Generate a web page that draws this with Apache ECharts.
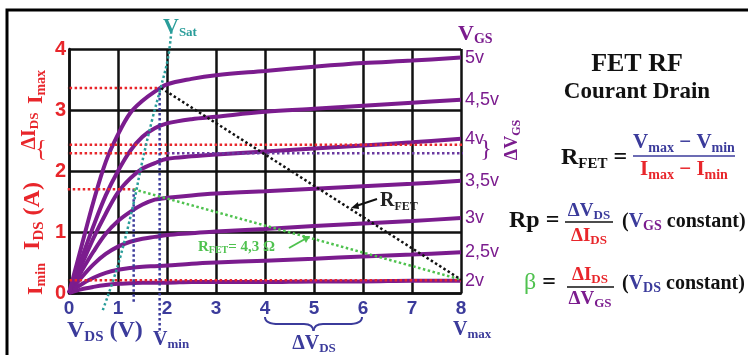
<!DOCTYPE html>
<html><head><meta charset="utf-8">
<script src="https://cdn.jsdelivr.net/npm/echarts@6/dist/echarts.min.js"></script>
<style>html,body{margin:0;padding:0;background:#fff}#c{width:748px;height:355px}</style>
</head><body><div id="c"></div>
<script>
// ---- data ----
const vds = [0,0.25,0.5,0.75,1,1.25,1.5,1.75,2,2.5,3,4,5,6,7,8];
const vgsLabels = ['2v','2,5v','3v','3,5v','4v','4,5v','5v'];
const id2v   = [0,0.06,0.10,0.13,0.15,0.16,0.17,0.17,0.17,0.18,0.18,0.18,0.19,0.19,0.20,0.20];
const id25v  = [0,0.14,0.25,0.33,0.38,0.41,0.43,0.44,0.45,0.48,0.50,0.53,0.56,0.60,0.63,0.67];
const id3v   = [0,0.25,0.47,0.64,0.76,0.84,0.89,0.92,0.95,0.98,1.01,1.05,1.10,1.14,1.18,1.23];
const id35v  = [0,0.35,0.68,0.97,1.18,1.33,1.45,1.53,1.56,1.60,1.63,1.67,1.71,1.75,1.79,1.84];
const id4v   = [0,0.45,0.90,1.30,1.65,1.88,2.04,2.13,2.20,2.24,2.27,2.32,2.37,2.42,2.47,2.53];
const id45v  = [0,0.55,1.10,1.60,2.00,2.33,2.56,2.70,2.78,2.85,2.89,2.97,3.02,3.07,3.12,3.17];
const id5v   = [0,0.75,1.50,2.15,2.60,2.95,3.15,3.30,3.42,3.51,3.57,3.64,3.71,3.77,3.81,3.86];
const curves = [id2v,id25v,id3v,id35v,id4v,id45v,id5v];
const xTicks = [0,1,2,3,4,5,6,7,8];
const yTicks = [0,1,2,3,4];
// annotation lines (VDS, IDS)
const vsatCurve = [[0.69,-0.28],[1.0,0.46],[1.31,1.44],[1.48,2.1],[1.7,2.85],[1.87,3.36],[2.02,3.85],[2.09,4.3]];
const imaxLine  = [[-0.6,3.36],[1.87,3.36]];
const dIdsUpper = [[-0.6,2.43],[8.05,2.43]];
const dIdsLowerRed = [[-0.6,2.29],[2.0,2.29]];
const dIdsLowerPur = [[2.0,2.29],[8.15,2.29]];
const i2Line    = [[-0.23,1.70],[1.32,1.70]];
const iminLine  = [[-0.6,0.21],[8,0.21]];
const vminLine  = [[1.85,3.36],[1.85,-0.66]];
const v2Line    = [[1.32,1.70],[1.32,-0.16]];
const rfetGreen = [[1.32,1.70],[8,0.22]];
const rfetBlack = [[1.88,3.36],[8,0.22]];

// ---- styling ----
const PURPLE='#7b1c8e', RED='#e8262b', NAVY='#3b3b9b', TEAL='#2a9d9a', GREEN='#4fc24f';
const SERIF='Liberation Serif', SANS='Liberation Sans';

function st(size,color,extra){return Object.assign({fontSize:size,fill:color,color:color,fontFamily:SERIF,fontWeight:'bold',lineHeight:Math.round(size*1.15)},extra||{});}
function sb(size,color){return {fontSize:size,fill:color,color:color,fontFamily:SERIF,fontWeight:'bold',lineHeight:size,verticalAlign:'bottom'};}

function T(x,y,text,rich,opt){
  opt=opt||{};
  return {type:'text',x:x,y:y,rotation:opt.rot||0,z:100,
    style:{text:text,rich:rich,align:opt.align||'left',verticalAlign:'middle',font:'bold 12px '+SERIF}};
}
function P(x,y,text,size,color){
  return {type:'text',x:x,y:y,z:100,style:{text:text,align:'center',verticalAlign:'middle',fill:color,font:size+'px '+SERIF}};
}
function Q(x1,y1,cx,cy,x2,y2,color){
  return {type:'bezierCurve',z:100,shape:{x1:x1,y1:y1,cpx1:cx,cpy1:cy,x2:x2,y2:y2},style:{fill:'none',stroke:color,lineWidth:2}};
}
function L(x1,y1,x2,y2,color,w){
  return {type:'line',z:100,shape:{x1:x1,y1:y1,x2:x2,y2:y2},style:{stroke:color,lineWidth:w||2}};
}

const graphics = [
  {type:'rect',shape:{x:7,y:10,width:760,height:360},style:{fill:'none',stroke:'#000',lineWidth:3},z:0},
  // V_sat
  T(163,27,'{a|V}{b|Sat}',{a:st(22,TEAL),b:sb(13,TEAL)}),
  // V_GS header
  T(458,34,'{a|V}{b|GS}',{a:st(22,PURPLE),b:sb(14,PURPLE)}),
  // left rotated labels
  T(36,87,'{a|I}{b|max}',{a:st(22,RED),b:sb(14,RED)},{rot:Math.PI/2,align:'center'}),
  T(30,131,'{a|ΔI}{b|DS}',{a:st(20,RED),b:sb(13,RED)},{rot:Math.PI/2,align:'center'}),
  T(33,216,'{a|I}{b|DS}{a| (A)}',{a:st(24,RED),b:sb(15,RED)},{rot:Math.PI/2,align:'center'}),
  T(36,279,'{a|I}{b|min}',{a:st(22,RED),b:sb(14,RED)},{rot:Math.PI/2,align:'center'}),
  P(41,150,'{',24,RED),
  // right brace + rotated ΔV_GS
  P(486,150,'}',24,PURPLE),
  T(512,140,'{a|ΔV}{b|GS}',{a:st(18,PURPLE),b:sb(12,PURPLE)},{rot:Math.PI/2,align:'center'}),
  // bottom labels
  T(67,331,'{a|V}{b|DS}{a| (V)}',{a:st(24,NAVY),b:sb(15,NAVY)}),
  T(153,340,'{a|V}{b|min}',{a:st(20,NAVY),b:sb(13,NAVY)}),
  T(314,344,'{a|ΔV}{b|DS}',{a:st(20,NAVY),b:sb(13,NAVY)},{align:'center'}),
  T(453,330,'{a|V}{b|max}',{a:st(20,NAVY),b:sb(13,NAVY)}),
  Q(265,317,265,324,279,324,NAVY), L(279,324,304,324,NAVY), Q(304,324,313,324,313.5,331,NAVY),
  Q(362,317,362,324,348,324,NAVY), L(348,324,323,324,NAVY), Q(323,324,314,324,313.5,331,NAVY),
  // in-plot labels
  T(380,201,'{a|R}{b|FET}',{a:st(20,'#222'),b:sb(12,'#222')}),
  L(377,199,356,206,'#111'),
  {type:'polygon',z:100,shape:{points:[[351,208],[358,202],[359,209]]},style:{fill:'#111'}},
  T(198,247,'{a|R}{b|FET}{a|= 4,3 Ω}',{a:st(15,GREEN),b:sb(10,GREEN)}),
  L(289,248,305,239,GREEN),
  {type:'polygon',z:100,shape:{points:[[310,236],[302,236],[306,243]]},style:{fill:GREEN}},
  // right panel
  T(637,64,'{a|FET RF}',{a:st(26,'#111')},{align:'center'}),
  T(637,92,'{a|Courant Drain}',{a:st(23,'#111')},{align:'center'}),
  T(561,158,'{a|R}{b|FET}{a| =}',{a:st(24,'#111'),b:sb(15,'#111')}),
  T(684,143,'{a|V}{b|max}{a| − V}{b|min}',{a:st(21,NAVY),b:sb(14,NAVY)},{align:'center'}),
  L(633,156,735,156,NAVY,1.5),
  T(684,170,'{a|I}{b|max}{a| − I}{b|min}',{a:st(21,RED),b:sb(14,RED)},{align:'center'}),
  T(509,221,'{a|Rp =}',{a:st(24,'#111')}),
  T(589,211,'{a|ΔV}{b|DS}',{a:st(19,NAVY),b:sb(13,NAVY)},{align:'center'}),
  L(565,222,613,222,'#111',1.5),
  T(589,236,'{a|ΔI}{b|DS}',{a:st(19,RED),b:sb(13,RED)},{align:'center'}),
  T(622,222,'{a|(}{v|V}{s|GS}{a| constant)}',{a:st(20,'#111'),v:st(20,NAVY),s:sb(14,PURPLE)}),
  T(524,283,'{g|β}{a| =}',{g:st(24,GREEN,{fontWeight:'normal'}),a:st(24,'#111')}),
  T(590,275,'{a|ΔI}{b|DS}',{a:st(19,RED),b:sb(13,RED)},{align:'center'}),
  L(567,287,614,287,'#111',1.5),
  T(590,299,'{a|ΔV}{b|GS}',{a:st(19,PURPLE),b:sb(13,PURPLE)},{align:'center'}),
  T(622,284,'{a|(}{v|V}{s|DS}{a| constant)}',{a:st(20,'#111'),v:st(20,NAVY),s:sb(14,NAVY)})
];

const series = [];
curves.forEach((c,i)=>{
  series.push({type:'line',name:vgsLabels[i],data:vds.map((x,j)=>[x,c[j]]),smooth:0.35,showSymbol:false,
    lineStyle:{color:PURPLE,width:4},z:5,silent:true,
    endLabel:{show:true,formatter:'{a}',color:PURPLE,fontSize:18,fontFamily:SANS,distance:4}});
});
function dotted(data,color,w,z){return {type:'line',data:data,showSymbol:false,clip:false,silent:true,z:z||8,
  lineStyle:{color:color,width:w||2.5,type:[2.5,2.5]}};}
series.push(dotted(imaxLine,RED));
series.push(dotted(dIdsUpper,RED));
series.push(dotted(dIdsLowerRed,RED));
series.push(dotted(dIdsLowerPur,'#6a3aa0'));
series.push(dotted(i2Line,RED));
series.push(dotted(iminLine,RED));
series.push(dotted(vminLine,NAVY));
series.push(dotted(v2Line,NAVY));
series.push(dotted(rfetGreen,GREEN));
series.push(dotted(rfetBlack,'#111'));
series.push(Object.assign(dotted(vsatCurve,TEAL),{smooth:0.4}));

const chart = echarts.init(document.getElementById('c'),null,{renderer:'canvas'});
chart.setOption({
  animation:false,
  grid:{left:69,right:287,top:49,bottom:62,containLabel:false},
  xAxis:{type:'value',min:xTicks[0],max:xTicks[xTicks.length-1],interval:1,
    axisLine:{lineStyle:{color:'#111',width:2.5}},axisTick:{show:false},
    splitLine:{show:true,lineStyle:{color:'#111',width:2.5}},
    axisLabel:{color:NAVY,fontSize:19,fontWeight:'bold',fontFamily:SANS,margin:6}},
  yAxis:{type:'value',min:yTicks[0],max:yTicks[yTicks.length-1],interval:1,
    axisLine:{show:true,lineStyle:{color:'#111',width:2.5}},axisTick:{show:false},
    splitLine:{show:true,lineStyle:{color:'#111',width:2.5}},
    axisLabel:{color:RED,fontSize:20,fontWeight:'bold',fontFamily:SANS,margin:3}},
  series:series,
  graphic:graphics
});
</script></body></html>
